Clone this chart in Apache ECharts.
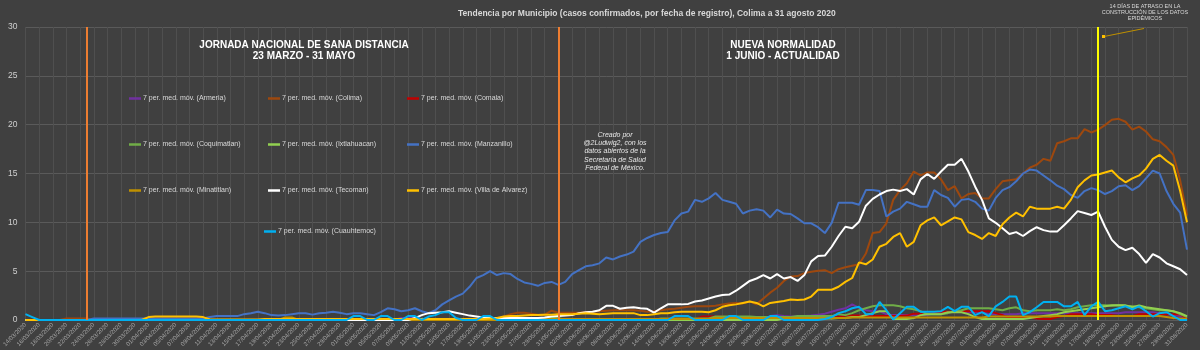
<!DOCTYPE html>
<html>
<head>
<meta charset="utf-8">
<script src="https://cdn.jsdelivr.net/npm/echarts@6/dist/echarts.min.js"></script>
<style>
  html, body { margin: 0; padding: 0; background: #404040; }
  #chart { width: 1200px; height: 350px; }
</style>
</head>
<body>
<div id="chart"></div>
<script>
// dias desde 14/03/2020 hasta 31/08/2020
var startDay = Date.UTC(2020, 2, 14);
var dayCount = 171;
var fechas = [];
for (var i = 0; i < dayCount; i++) {
  var d = new Date(startDay + i * 86400000);
  var dd = ('0' + d.getUTCDate()).slice(-2);
  var mm = ('0' + (d.getUTCMonth() + 1)).slice(-2);
  fechas.push(dd + '/' + mm + '/' + d.getUTCFullYear());
}

var yTicks = [0, 5, 10, 15, 20, 25, 30];

// promedio movil 7 dias por municipio
var armeria = [
  0,0,0,0,0,0,0,0,0,0, 0,0,0,0,0,0,0,0,0,0, 0,0,0,0,0,0,0,0,0,0, 0,0,0,0,0,0,0,0,0,0, 0,0,0,0,0,0,0,0,0,0,
  0,0,0,0,0,0.2,0.2,0.2,0.1,0.1, 0.1,0.1,0.1,0.1,0.1,0.1,0.1,0.1,0.1,0.1,
  0.1,0.1,0.1,0.1,0.1,0.15,0.15,0.15,0.1,0.1, 0.1,0.1,0.1,0.1,0.1,0.1,0.1,0.1,0.1,0.1,
  0.1,0.1,0.1,0.1,0.1,0.1,0.1,0.1,0.1,0.1, 0.1,0.1,0.1,0.1,0.1,0.1,0.1,0.1,0.1,0.4,
  0.5,0.4,0.35,0.35,0.4,0.45,0.55,0.65,0.85,1.05, 1.2,1.6,1.25,1.0,0.9,0.9,0.6,0.5,0.5,0.5,
  0.5,0.5,0.5,0.7,0.8,0.8,0.85,0.85,0.8,0.8, 0.8,0.6,0.6,0.6,0.6,0.6,0.7,0.7,0.7,0.7,
  0.7,0.7,0.7,0.7,0.7,0.7,0.7,0.7,0.7,0.7, 0.7,0.8,0.8,0.8,0.8,0.8,0.7,0.6,0.5,0.4,
  0.2
];
var colima = [
  0,0,0,0,0,0,0.15,0.15,0.15,0.15, 0,0,0,0,0,0,0,0,0,0, 0,0,0,0,0,0,0,0,0,0, 0,0,0,0,0,0,0,0,0,0,
  0,0,0,0,0,0,0,0,0,0, 0,0,0,0,0,0,0,0,0,0, 0,0,0,0,0,0,0,0,0,0.1,
  0.35,0.6,0.75,0.75,0.65,0.55,0.55,0.95,0.75,0.75, 0.75,0.75,0.8,0.85,0.9,0.95,1.0,1.0,1.0,1.0,
  0.95,0.85,0.9,1.0,1.1,1.15,1.25,1.35,1.4,1.4, 1.4,1.45,1.6,1.7,1.75,1.7,1.9,1.6,2.2,2.8,
  3.3,4.0,4.45,4.5,4.8,4.95,5.05,5.1,4.8,5.2, 5.4,5.55,5.7,6.8,8.9,9.0,9.9,12.3,13.3,14.0,
  15.2,14.8,15.1,15.1,14.4,13.3,13.7,12.45,12.9,13.0, 12.45,12.45,13.4,14.2,14.3,14.4,15.0,15.6,15.9,16.5,
  16.3,18.1,18.3,18.6,18.6,19.55,19.2,19.5,19.95,20.5, 20.6,20.3,19.5,19.8,19.3,18.5,18.3,17.7,16.9,14.3,
  10.7
];
var comala = [
  0,0,0,0,0,0,0,0,0,0, 0,0,0,0,0,0,0,0,0,0, 0,0,0,0,0,0,0,0,0,0, 0,0,0,0,0,0,0,0,0,0,
  0,0,0,0,0,0,0,0,0,0, 0,0,0,0,0,0,0,0,0,0, 0,0,0,0,0,0,0,0,0,0,
  0,0,0,0,0,0,0,0,0,0, 0,0,0,0,0,0,0,0,0,0,
  0,0,0,0,0.15,0.15,0.15,0.1,0.1,0.35, 0.35,0.35,0.35,0.1,0.25,0.25,0.25,0.25,0.1,0.1,
  0.1,0.1,0.1,0.1,0.25,0.25,0.25,0.25,0.25,0.3, 0.45,0.45,0.45,0.4,0.4,0.4,0.4,0.4,0.4,0.45,
  0.65,0.65,0.65,0.7,0.85,0.85,0.85,0.9,0.9,0.9, 0.9,0.9,0.7,0.5,0.2,0.2,0.2,0.25,0.15,0.1,
  0.1,0.3,0.4,0.6,0.6,0.6,0.6,0.5,0.5,0.5, 0.4,0.4,0.4,0.6,0.6,0.6,0.6,0.6,0.6,0.6,
  0.1
];
var coquimatlan = [
  0,0,0,0,0,0,0,0,0,0, 0,0,0,0,0,0,0,0,0,0, 0,0,0,0,0,0,0,0,0,0, 0,0,0,0,0,0,0,0,0,0,
  0,0,0,0,0,0,0,0,0,0, 0,0,0,0,0,0,0,0,0,0, 0,0,0,0,0,0,0,0,0,0.2,
  0.2,0.2,0.2,0.2,0.2,0.2,0.2,0.2,0.2,0, 0,0,0,0,0,0,0,0,0,0,
  0,0,0,0.15,0.15,0.15,0.15,0.15,0.15,0.15, 0.15,0.35,0.35,0.35,0.35,0.35,0.35,0.3,0.3,0.3,
  0.3,0.3,0.3,0.4,0.4,0.4,0.4,0.4,0.4,0.6, 0.5,0.7,1.0,1.2,1.4,1.5,1.5,1.5,1.4,1.2,
  1.1,0.9,0.6,0.6,0.6,0.7,0.9,1.0,1.2,1.2, 1.2,1.2,1.1,1.0,1.2,1.3,1.0,0.9,1.0,1.0,
  1.0,1.1,1.0,1.1,1.3,1.4,1.5,1.5,1.5,1.45, 1.5,1.45,1.4,1.3,1.2,1.1,1.0,1.0,0.9,0.6,
  0.3
];
var ixtlahuacan = [
  0,0,0,0,0,0,0,0,0,0, 0,0,0,0,0,0,0,0,0,0, 0,0,0,0,0,0,0,0,0,0, 0,0,0,0,0,0,0,0,0,0,
  0,0,0,0,0,0,0,0,0,0, 0,0,0,0,0,0,0,0,0,0, 0,0,0,0,0,0,0,0,0,0,
  0,0,0,0,0,0,0,0.1,0.1,0.1, 0.1,0,0,0,0,0,0,0,0,0,
  0,0,0,0,0,0,0,0,0,0, 0,0,0,0,0,0,0,0,0,0,
  0,0.15,0.15,0.15,0.15,0.15,0.15,0.15,0.15,0.2, 0.2,0.3,0.3,0.5,0.7,0.9,0.9,0.1,0.1,0.1,
  0.2,0.5,0.6,0.6,0.6,0.8,0.8,0.8,0.6,0.3, 0.1,0.1,0.1,0.1,0.1,0.1,0.1,0.2,0.3,0.4,
  0.5,0.6,0.8,0.9,1.0,1.1,1.2,1.3,1.4,1.5, 1.5,1.5,1.3,1.5,1.3,1.2,1.1,1.0,0.9,0.7,
  0.4
];
var manzanillo = [
  0,0,0,0,0,0,0,0,0,0, 0.15,0.15,0.15,0.15,0.15,0.15,0.15,0.15,0.15,0.15,
  0.15,0.15,0.15,0.15,0.15,0.15,0.15,0.3,0.4,0.4, 0.4,0.4,0.6,0.7,0.85,0.7,0.5,0.45,0.5,0.6,
  0.7,0.7,0.55,0.7,0.75,0.85,0.75,0.6,0.7,0.7, 0.6,0.5,0.8,1.2,1.1,0.9,1.0,1.2,0.9,0.7,
  1.0,1.6,2.0,2.4,2.7,3.4,4.3,4.6,5.0,4.6, 4.8,4.7,4.2,3.85,3.7,3.5,3.8,3.9,3.6,3.9,
  4.7,5.1,5.5,5.6,5.8,6.4,6.2,6.5,6.7,7.0, 8.0,8.4,8.7,8.9,9.0,10.2,10.9,11.1,12.3,12.1,
  12.45,13.0,12.3,12.1,11.9,10.9,11.2,11.35,11.2,10.5, 11.3,10.9,10.85,10.4,9.9,9.9,9.5,8.9,9.95,12.0,
  12.0,12.0,11.8,13.3,13.3,13.2,10.6,11.1,11.4,12.1, 11.85,11.6,11.6,13.3,12.8,12.5,11.6,12.3,12.4,12.1,
  11.4,11.2,12.5,13.3,13.6,14.2,15.0,15.4,15.3,14.8, 14.3,13.75,13.4,12.8,12.5,13.2,13.5,13.3,12.9,13.2,
  13.7,13.8,13.3,13.7,14.5,15.3,15.0,13.2,11.9,11.0, 7.2
];
var minatitlan = [
  0,0,0,0,0,0,0,0,0,0, 0,0,0,0,0,0,0,0,0,0, 0,0,0,0,0,0,0,0,0,0, 0,0,0,0,0,0,0,0,0.25,0.25,
  0,0,0,0,0,0,0,0,0,0, 0,0,0,0,0,0,0,0,0,0, 0,0,0,0,0,0,0,0,0,0,
  0.1,0.1,0.1,0.1,0.1,0.1,0.1,0.1,0.1,0.1, 0.1,0.1,0.1,0.1,0.1,0.1,0.1,0.1,0.1,0.1,
  0.1,0.1,0.1,0.1,0.1,0.1,0.1,0.1,0.1,0.1, 0.1,0.2,0.2,0.2,0.2,0.2,0.2,0.2,0.2,0.2,
  0.2,0.2,0.2,0.2,0.2,0.2,0.2,0.2,0.2,0.2, 0.2,0.25,0.25,0.25,0.25,0.25,0.25,0.25,0.25,0.25,
  0.25,0.25,0.25,0.25,0.25,0.25,0.25,0.25,0.25,0.25, 0.25,0.35,0.35,0.35,0.35,0.35,0.35,0.35,0.35,0.35,
  0.35,0.4,0.4,0.4,0.4,0.4,0.4,0.4,0.4,0.4, 0.4,0.4,0.4,0.4,0.4,0.4,0.4,0.3,0.2,0.15,
  0.1
];
var tecoman = [
  0,0,0,0,0,0,0,0,0,0, 0,0,0,0,0,0,0,0,0,0, 0,0,0,0,0,0,0,0,0,0, 0,0,0,0,0,0,0,0,0,0,
  0,0,0,0,0,0,0,0,0,0, 0,0,0,0,0,0,0,0.2,0.5,0.7,
  0.75,0.8,0.9,0.75,0.6,0.45,0.35,0.25,0.2,0.2, 0.2,0.2,0.2,0.2,0.2,0.2,0.25,0.35,0.4,0.45,
  0.5,0.7,0.8,0.85,1.0,1.45,1.45,1.15,1.25,1.3, 1.2,1.15,0.75,1.2,1.6,1.6,1.6,1.65,1.9,2.0,
  2.2,2.4,2.55,2.6,3.0,3.5,4.0,4.25,4.6,4.25, 4.7,4.25,4.4,4.0,4.6,6.0,6.55,6.6,7.5,8.6,
  9.55,9.4,10.05,11.7,12.4,12.85,13.2,13.35,13.2,13.4, 12.85,14.4,14.95,14.45,15.2,15.9,15.9,16.5,15.2,13.65,
  12.3,10.4,9.95,9.4,8.8,9.0,8.6,9.1,9.5,9.2, 9.05,9.05,9.7,10.4,11.15,10.95,10.75,11.1,9.55,8.2,
  7.5,7.15,7.4,6.75,5.85,6.75,6.4,5.8,5.5,5.2, 4.6
];
var villaAlvarez = [
  0,0,0,0,0,0,0,0,0,0, 0,0,0,0,0,0,0,0,0.3,0.35,
  0.35,0.35,0.35,0.35,0.35,0.35,0.3,0.05,0.05,0.05, 0.05,0.05,0.05,0.05,0.05,0.1,0.1,0.1,0.1,0.1,
  0.1,0.1,0.1,0.1,0.1,0.1,0.1,0.1,0.1,0.1, 0.1,0.1,0.1,0.1,0.1,0.1,0.1,0.1,0.1,0.1,
  0.1,0.1,0.1,0.1,0.1,0.1,0.1,0.1,0.15,0.2, 0.35,0.4,0.4,0.45,0.5,0.5,0.55,0.55,0.6,0.6,
  0.6,0.65,0.7,0.65,0.6,0.65,0.7,0.7,0.7,0.7, 0.5,0.5,0.6,0.7,0.7,0.8,0.85,0.85,0.85,0.85,
  0.8,1.0,1.35,1.5,1.6,1.75,1.9,1.75,1.4,1.75, 1.85,1.95,2.1,2.05,2.1,2.4,3.1,3.1,3.1,3.4,
  3.9,4.3,5.9,5.7,6.2,7.5,7.8,8.5,8.9,7.5, 8.0,9.7,10.2,10.5,9.7,10.1,10.5,10.3,9.0,8.7,
  8.3,8.9,8.6,9.8,10.5,11.0,10.6,11.6,11.4,11.4, 11.4,11.6,11.4,12.3,13.6,14.3,14.8,14.9,15.1,15.3,
  14.6,14.1,14.5,14.8,15.5,16.5,16.9,16.3,15.8,13.2, 10.0
];
var cuauhtemoc = [
  0.6,0.3,0,0,0,0,0,0,0,0, 0,0,0,0,0,0,0,0,0,0, 0,0,0,0,0,0,0,0,0,0, 0,0,0,0,0,0,0,0,0,0,
  0,0,0,0,0,0,0,0,0.4,0.4, 0,0,0.4,0.4,0,0,0.4,0.4,0,0.35,
  0.5,0.8,0.8,0.2,0,0,0,0.4,0.4,0, 0,0,0,0,0,0,0,0,0,0, 0,0,0,0,0,0,0,0,0,0,
  0,0,0,0,0,0.4,0.4,0.4,0,0, 0,0,0,0.4,0.4,0,0,0,0,0.4,
  0.4,0,0,0,0,0,0,0.1,0.3,0.7, 0.9,1.2,1.35,0.6,0.6,1.85,1.0,0.05,0.7,1.35,
  1.35,0.85,0.85,0.85,0.9,1.35,0.9,1.35,1.35,0.5, 0.8,0.4,1.4,1.85,2.4,2.4,0.5,0.8,1.3,1.85,
  1.85,1.85,1.4,1.4,1.85,0.5,1.4,1.85,0.9,1.0, 1.2,1.4,1.1,1.4,0.9,0.35,0.7,0.8,0.4,0,
  0
];

var municipios = ['Armeria', 'Colima', 'Comala', 'Coquimatlan', 'Ixtlahuacan', 'Manzanillo',
  'Minatitlan', 'Tecoman', 'Villa de Alvarez', 'Cuauhtemoc'];
var valores = [armeria, colima, comala, coquimatlan, ixtlahuacan, manzanillo,
  minatitlan, tecoman, villaAlvarez, cuauhtemoc];
var colores = ['#7030A0', '#9E480E', '#C00000', '#70AD47', '#92D050', '#4472C4',
  '#BF9000', '#FFFFFF', '#FFC000', '#00B0F0'];
// posicion de cada entrada de la leyenda (x del icono, y centro)
var legendPos = [[129,100],[268,100],[407,100],[129,146],[268,146],[407,146],
  [129,192],[268,192],[407,192],[264,233]];

var fontFam = '"Liberation Sans", Arial, sans-serif';
var nombres = municipios.map(function (m) { return '7 per. med. móv. (' + m + ')'; });

var series = nombres.map(function (n, i) {
  return {
    name: n,
    type: 'line',
    data: valores[i],
    showSymbol: false,
    symbol: 'none',
    lineStyle: { color: colores[i], width: 2 },
    itemStyle: { color: colores[i] },
    z: 2
  };
});
// lineas verticales de las fases
series.push({
  name: 'fases',
  type: 'line',
  data: [],
  z: 5,
  markLine: {
    silent: true,
    symbol: ['none', 'none'],
    label: { show: false },
    data: [
      { xAxis: '23/03/2020', lineStyle: { color: '#ED7D31', width: 2, type: 'solid' } },
      { xAxis: '31/05/2020', lineStyle: { color: '#ED7D31', width: 2, type: 'solid' } },
      { xAxis: '18/08/2020', lineStyle: { color: '#FFFF00', width: 2, type: 'solid' } }
    ]
  }
});

var legends = nombres.map(function (n, i) {
  return {
    data: [n],
    left: legendPos[i][0],
    top: legendPos[i][1] - 5,
    padding: 0,
    icon: 'rect',
    itemWidth: 12,
    itemHeight: 2.5,
    selectedMode: false,
    textStyle: { color: '#d9d9d9', fontSize: 7, fontFamily: fontFam, padding: [0, 0, 0, -3] }
  };
});

var myChart = echarts.init(document.getElementById('chart'));
myChart.setOption({
  backgroundColor: '#404040',
  animation: false,
  title: {
    text: 'Tendencia por Municipio (casos confirmados, por fecha de registro), Colima a 31 agosto 2020',
    left: 458,
    top: 9,
    padding: 0,
    textStyle: { color: '#d9d9d9', fontSize: 8.5, fontWeight: 'bold', fontFamily: fontFam }
  },
  legend: legends,
  grid: { left: 21, right: 13, top: 27, bottom: 30 },
  xAxis: {
    type: 'category',
    data: fechas,
    boundaryGap: false,
    axisLine: { show: true, lineStyle: { color: '#595959' } },
    axisTick: { show: false },
    axisLabel: {
      interval: 1,
      rotate: 45,
      fontSize: 6,
      color: '#a6a6a6',
      fontFamily: fontFam,
      margin: 4
    },
    splitLine: { show: true, interval: 1, lineStyle: { color: '#4f4f4f', width: 1 } }
  },
  yAxis: {
    type: 'value',
    min: yTicks[0],
    max: yTicks[yTicks.length - 1],
    interval: 5,
    axisLine: { show: false },
    axisTick: { show: false },
    axisLabel: { color: '#d0d0d0', fontSize: 8.5, fontFamily: fontFam, margin: 8 },
    splitLine: { lineStyle: { color: '#5a5a5a', width: 1 } }
  },
  graphic: [
    {
      type: 'text', x: 304, y: 40, z: 10,
      style: {
        text: 'JORNADA NACIONAL DE SANA DISTANCIA\n23 MARZO - 31 MAYO',
        fill: '#ffffff', font: 'bold 10px ' + fontFam, align: 'center', lineHeight: 11
      }
    },
    {
      type: 'text', x: 783, y: 40, z: 10,
      style: {
        text: 'NUEVA NORMALIDAD\n1 JUNIO - ACTUALIDAD',
        fill: '#ffffff', font: 'bold 10px ' + fontFam, align: 'center', lineHeight: 11
      }
    },
    {
      type: 'text', x: 615, y: 131, z: 10,
      style: {
        text: 'Creado por\n@2Ludwig2, con los\ndatos abiertos de la\nSecretaría de Salud\nFederal de México.',
        fill: '#e6e6e6', font: 'italic 7px ' + fontFam, align: 'center', lineHeight: 8.2
      }
    },
    {
      type: 'text', x: 1145, y: 3, z: 10,
      style: {
        text: '14 DÍAS DE ATRASO EN LA\nCONSTRUCCIÓN DE LOS DATOS\nEPIDÉMICOS',
        fill: '#d9d9d9', font: '5.5px ' + fontFam, align: 'center', lineHeight: 6.3
      }
    },
    {
      type: 'line', z: 10,
      shape: { x1: 1144, y1: 28.5, x2: 1104, y2: 36.5 },
      style: { stroke: '#BF9000', lineWidth: 1 }
    },
    {
      type: 'rect', z: 10,
      shape: { x: 1102, y: 35, width: 3, height: 3 },
      style: { fill: '#FFC000' }
    }
  ],
  series: series
});
</script>
</body>
</html>
